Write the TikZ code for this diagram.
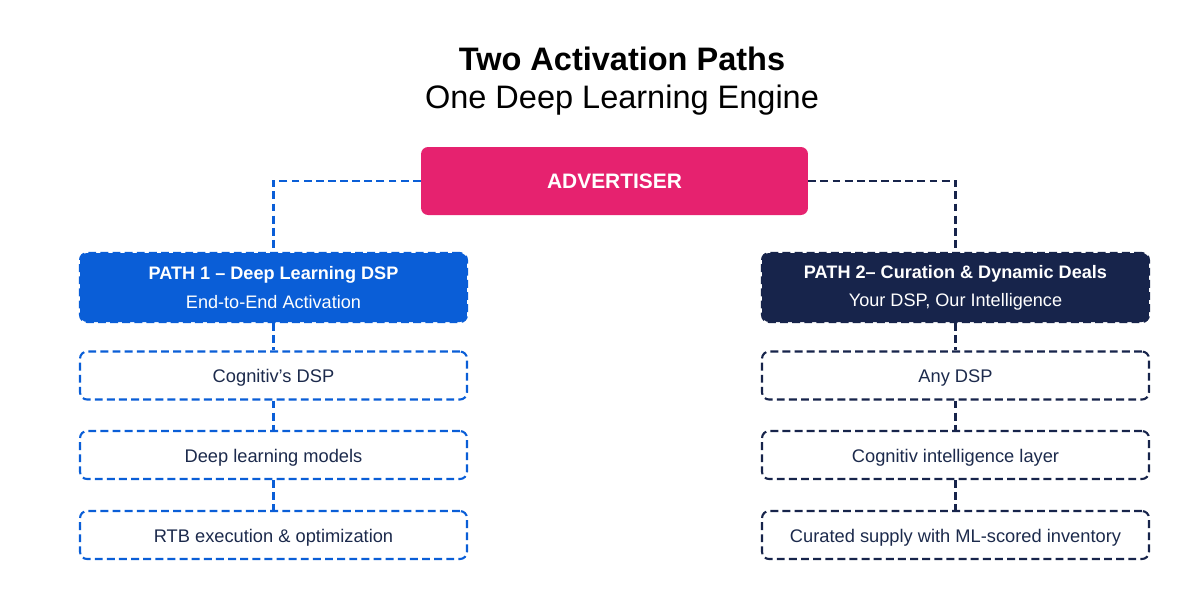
\documentclass[tikz,border=0pt]{standalone}
\usepackage{fontspec}
\setmainfont{Liberation Sans}
\definecolor{advpink}{HTML}{E6226F}
\definecolor{pathblue}{HTML}{0A5ED7}
\definecolor{pathnavy}{HTML}{17244B}
\definecolor{textnavy}{HTML}{1C2A4C}
\begin{document}
\begin{tikzpicture}[x=0.02cm,y=-0.02cm,
	dashline/.style={line width=1.2pt,dash pattern=on 4.5pt off 2.4pt},
	advbox/.style={rectangle,rounded corners=4pt,fill=advpink,text=white,minimum width=7.74cm,minimum height=1.36cm,font=\fontsize{11.9}{14}\selectfont\bfseries},
	headbox/.style={rectangle,rounded corners=4pt,dashline,minimum width=7.74cm,minimum height=1.38cm,text=white,align=center,font=\fontsize{10.3}{16}\selectfont},
	stepbox/.style={rectangle,rounded corners=4pt,dashline,fill=white,minimum width=7.74cm,minimum height=0.96cm,text height=8pt,text depth=0pt,text=textnavy,font=\fontsize{10.4}{12}\selectfont}]
	\useasboundingbox (0,0) rectangle (1200,600);
	\node[align=center,font=\fontsize{18.5}{22}\selectfont] (title) at (622,81) {\textbf{Two Activation Paths}\\One Deep Learning Engine};
	\node[advbox] (adv) at (614.5,181) {ADVERTISER};
	\node[headbox,fill=pathblue,draw=pathblue] (p1) at (273.5,287.5) {\textbf{PATH 1 – Deep Learning DSP}\\End-to-End Activation};
	\node[headbox,fill=pathnavy,draw=pathnavy] (p2) at (955.5,287.5) {\textbf{PATH 2– Curation \& Dynamic Deals}\\Your DSP, Our Intelligence};
	\node[stepbox,draw=pathblue] (l1) at (273.5,375.5) {Cognitiv’s DSP};
	\node[stepbox,draw=pathblue] (l2) at (273.5,455) {Deep learning models};
	\node[stepbox,draw=pathblue] (l3) at (273.5,535) {RTB execution \& optimization};
	\node[stepbox,draw=pathnavy] (r1) at (955.5,375.5) {Any DSP};
	\node[stepbox,draw=pathnavy] (r2) at (955.5,455) {Cognitiv intelligence layer};
	\node[stepbox,draw=pathnavy] (r3) at (955.5,535) {Curated supply with ML-scored inventory};
	\draw[dashline,pathblue] (adv.west) -| (p1.north);
	\draw[dashline,pathnavy] (adv.east) -| (p2.north);
	\draw[dashline,pathblue] (p1.south) -- (l1.north);
	\draw[dashline,pathblue] (l1.south) -- (l2.north);
	\draw[dashline,pathblue] (l2.south) -- (l3.north);
	\draw[dashline,pathnavy] (p2.south) -- (r1.north);
	\draw[dashline,pathnavy] (r1.south) -- (r2.north);
	\draw[dashline,pathnavy] (r2.south) -- (r3.north);
\end{tikzpicture}
\end{document}
